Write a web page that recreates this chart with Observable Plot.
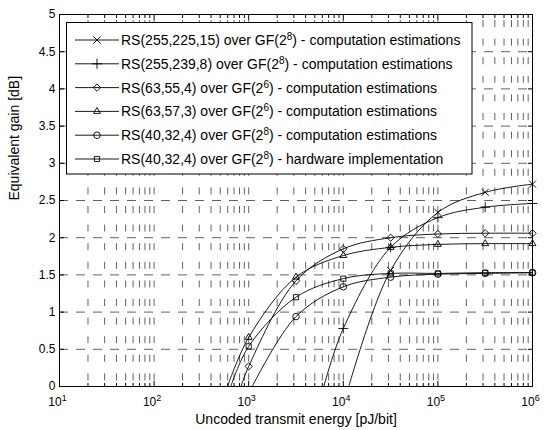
<!DOCTYPE html>
<html>
<head>
<meta charset="utf-8">
<script src="https://cdn.jsdelivr.net/npm/d3@7"></script>
<script src="https://cdn.jsdelivr.net/npm/@observablehq/plot@0.6"></script>
<style>
  body { margin: 0; background: #fff; }
  #chart svg { display: block; }
</style>
</head>
<body>
<div id="chart"></div>
<script>
// ---- data ----
const energyTicks = [10, 100, 1000, 10000, 100000, 1000000];
const gainTicks = [0, 0.5, 1, 1.5, 2, 2.5, 3, 3.5, 4, 4.5, 5];
const markerEnergy = [1000, 3162, 10000, 31623, 100000, 316228, 1000000];

const codes = ["RS(255,225,15)", "RS(255,239,8)", "RS(63,55,4)", "RS(63,57,3)", "RS(40,32,4)", "RS(40,32,4)"];
const fieldExponents = ["8", "8", "6", "6", "8", "8"];
const methods = ["computation estimations", "computation estimations", "computation estimations",
                 "computation estimations", "computation estimations", "hardware implementation"];
const symbols = ["times", "plus", "diamond2", "triangle2", "circle", "square2"];

// energy where each curve leaves 0 dB
const onsetEnergy = [11430, 6220, 830, 597, 1090, 646];

const gainRS255_225 = [null, null, null, 1.56, 2.34, 2.61, 2.72];
const gainRS255_239 = [null, null, 0.78, 1.87, 2.27, 2.41, 2.46];
const gainRS63_55   = [0.27, 1.42, 1.85, 2.00, 2.05, 2.06, 2.06];
const gainRS63_57   = [0.66, 1.47, 1.76, 1.87, 1.91, 1.92, 1.92];
const gainRS40_32   = [null, 0.94, 1.34, 1.47, 1.51, 1.52, 1.53];
const gainRS40_32hw = [0.54, 1.20, 1.45, 1.52, 1.52, 1.53, 1.53];

const xLabel = "Uncoded transmit energy [pJ/bit]";
const yLabel = "Equivalent gain [dB]";

// ---- build tables ----
const gains = [gainRS255_225, gainRS255_239, gainRS63_55, gainRS63_57, gainRS40_32, gainRS40_32hw];
const lineRows = [];
const markerRows = [];
gains.forEach((g, i) => {
  lineRows.push({s: i, e: onsetEnergy[i], g: 0});
  g.forEach((v, j) => {
    if (v != null) {
      const r = {s: i, e: markerEnergy[j], g: v};
      lineRows.push(r);
      markerRows.push(r);
    }
  });
});
const minorTicks = [];
energyTicks.slice(0, -1).forEach(d => { for (let k = 2; k <= 9; k++) minorTicks.push(d * k); });

const font = "'Liberation Sans', Arial, Helvetica, sans-serif";
const gridStyle = {stroke: "#000", strokeOpacity: 0.62, strokeWidth: 1};

const chart = Plot.plot({
  width: 544,
  height: 430,
  marginLeft: 59,
  marginRight: 12,
  marginTop: 14,
  marginBottom: 44,
  style: {fontFamily: font, fontSize: "12px", color: "#000", background: "#fff"},
  x: {type: "log", domain: [10, 1000000]},
  y: {domain: [0, 5]},
  marks: [
    Plot.gridY(gainTicks, {...gridStyle, strokeDasharray: "9,8"}),
    Plot.gridX(energyTicks.concat(minorTicks), {...gridStyle, strokeDasharray: "7,11.6", strokeDashoffset: -6}),
    Plot.line(lineRows, {x: "e", y: "g", z: "s", curve: "catmull-rom", stroke: "#000", strokeWidth: 0.9, clip: true}),
    ...symbols.map((sym, i) => Plot.dot(markerRows.filter(d => d.s === i), {
      x: "e", y: "g", symbol: sym, r: 3.3, stroke: "#000", fill: "none", strokeWidth: 0.9
    })),
    Plot.frame({stroke: "#000", strokeWidth: 1}),
    Plot.axisX(energyTicks, {anchor: "bottom", tickSize: -5, tickPadding: 16, label: null,
      tickFormat: d => String(Math.round(Math.log10(d))), fontSize: 12}),
    Plot.axisX(minorTicks, {anchor: "bottom", tickSize: -3, fill: "none", label: null}),
    Plot.axisX(energyTicks, {anchor: "top", tickSize: -5, fill: "none", label: null}),
    Plot.axisX(minorTicks, {anchor: "top", tickSize: -3, fill: "none", label: null}),
    Plot.axisY(gainTicks, {anchor: "left", tickSize: -5, tickPadding: 9, label: null,
      tickFormat: d => String(d), fontSize: 12}),
    Plot.axisY(gainTicks, {anchor: "right", tickSize: -5, fill: "none", label: null}),
    Plot.text([xLabel], {frameAnchor: "bottom", dy: 37, text: d => d, fontSize: 14}),
    Plot.text([yLabel], {frameAnchor: "left", dx: -45, rotate: -90, text: d => d, fontSize: 14})
  ]
});
document.getElementById("chart").appendChild(chart);

// superscript exponents on x tick labels: 10^n
d3.select(chart).selectAll('g[aria-label="x-axis tick label"] text').each(function() {
  const t = d3.select(this);
  const exp = t.text();
  t.text("10").attr("dx", "-2");
  t.append("tspan").attr("dy", "-5").attr("font-size", "9").text(exp);
});

// legend (MATLAB-style box inside the axes)
const symbolTypes = {times: d3.symbolTimes, plus: d3.symbolPlus, diamond2: d3.symbolDiamond2,
                     triangle2: d3.symbolTriangle2, circle: d3.symbolCircle, square2: d3.symbolSquare2};
const lg = d3.select(chart).append("g").attr("font-family", font).attr("font-size", 14)
  .attr("text-anchor", "start");
lg.append("rect").attr("x", 66.5).attr("y", 22.5).attr("width", 405.5).attr("height", 151.5)
  .attr("fill", "#fff").attr("stroke", "#000").attr("stroke-width", 1);
codes.forEach((code, i) => {
  const y = 40 + i * 23.8;
  lg.append("line").attr("x1", 75).attr("x2", 119).attr("y1", y).attr("y2", y)
    .attr("stroke", "#000").attr("stroke-width", 0.9);
  lg.append("path").attr("transform", `translate(97,${y})`)
    .attr("d", d3.symbol(symbolTypes[symbols[i]], Math.PI * 3.3 * 3.3)())
    .attr("fill", "none").attr("stroke", "#000").attr("stroke-width", 0.9);
  const t = lg.append("text").attr("x", 121).attr("y", y).attr("dy", "0.35em")
    .attr("text-anchor", "start");
  t.append("tspan").text(`${code} over GF(2`);
  t.append("tspan").attr("dy", -5).attr("font-size", 10).text(fieldExponents[i]);
  t.append("tspan").attr("dy", 5).text(`) - ${methods[i]}`);
});
</script>
</body>
</html>
